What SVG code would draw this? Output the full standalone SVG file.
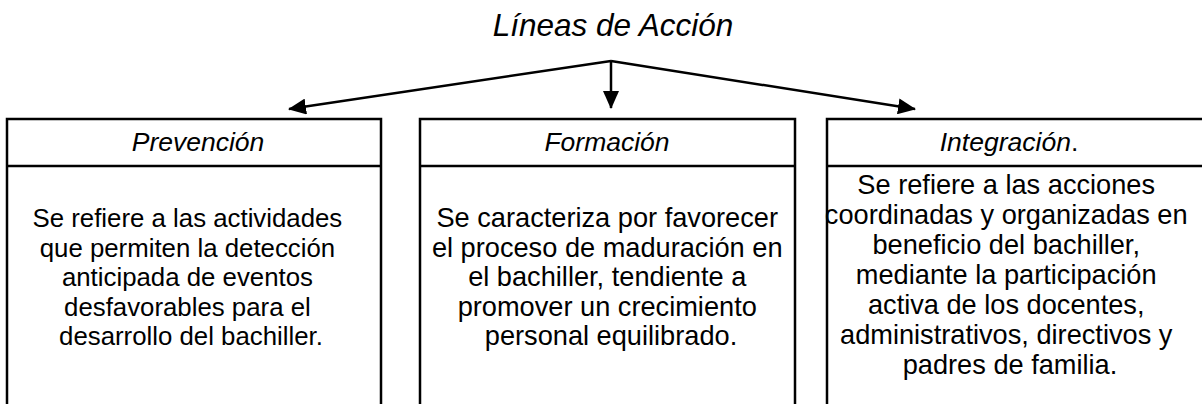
<svg xmlns="http://www.w3.org/2000/svg" width="1202" height="404" viewBox="0 0 1202 404">
<style>
.box{fill:#fff;stroke:#000;stroke-width:2.5}
.div{stroke:#000;stroke-width:2.5}
.conn{stroke:#000;stroke-width:2.5;fill:none}
.t{font-family:"Liberation Sans",Arial,sans-serif;fill:#000;text-anchor:middle}
.title{font-size:31.5px;font-style:italic}
.head{font-size:26.5px;font-style:italic}
.body{font-size:25.8px}
.body2{font-size:27.2px}
</style>
<defs>
<marker id="ah" markerUnits="userSpaceOnUse" markerWidth="18" markerHeight="16" viewBox="0 0 18 16" refX="17" refY="8" orient="auto">
<path d="M0,0 L18,8 L0,16 Z" fill="#000"/>
</marker>
</defs>
<g id="title">
<text class="t title" x="613" y="36">Líneas de Acción</text>
</g>
<g id="connectors">
<line class="conn" x1="611" y1="61" x2="289" y2="109" marker-end="url(#ah)"/>
<line class="conn" x1="611" y1="61" x2="611" y2="108" marker-end="url(#ah)"/>
<line class="conn" x1="611" y1="61" x2="915" y2="109" marker-end="url(#ah)"/>
</g>
<g id="prevencion">
<rect class="box" x="7" y="119" width="374" height="300"/>
<line class="div" x1="7" y1="166" x2="381" y2="166"/>
<text class="t head" x="198" y="151">Prevención</text>
<text class="t body" x="191">
<tspan x="191" y="227">Se refiere a las actividades</tspan>
<tspan x="191" y="256.5">que permiten la detección</tspan>
<tspan x="191" y="286">anticipada de eventos</tspan>
<tspan x="191" y="315.5">desfavorables para el</tspan>
<tspan x="191" y="345">desarrollo del bachiller.</tspan>
</text>
</g>
<g id="formacion">
<rect class="box" x="420" y="119" width="375" height="300"/>
<line class="div" x1="420" y1="166" x2="795" y2="166"/>
<text class="t head" x="607" y="151">Formación</text>
<text class="t body2" x="611">
<tspan x="611" y="227">Se caracteriza por favorecer</tspan>
<tspan x="611" y="256.5">el proceso de maduración en</tspan>
<tspan x="611" y="286">el bachiller, tendiente a</tspan>
<tspan x="611" y="315.5">promover un crecimiento</tspan>
<tspan x="611" y="345">personal equilibrado.</tspan>
</text>
</g>
<g id="integracion">
<rect class="box" x="827" y="119" width="390" height="300"/>
<line class="div" x1="827" y1="166" x2="1217" y2="166"/>
<text class="t head" x="1009" y="151">Integración<tspan font-style="normal">.</tspan></text>
<text class="t body2" x="1010">
<tspan x="1010" y="194">Se refiere a las acciones</tspan>
<tspan x="1010" y="224">coordinadas y organizadas en</tspan>
<tspan x="1010" y="254">beneficio del bachiller,</tspan>
<tspan x="1010" y="284">mediante la participación</tspan>
<tspan x="1010" y="314">activa de los docentes,</tspan>
<tspan x="1010" y="344">administrativos, directivos y</tspan>
<tspan x="1010" y="374">padres de familia.</tspan>
</text>
</g>
</svg>
